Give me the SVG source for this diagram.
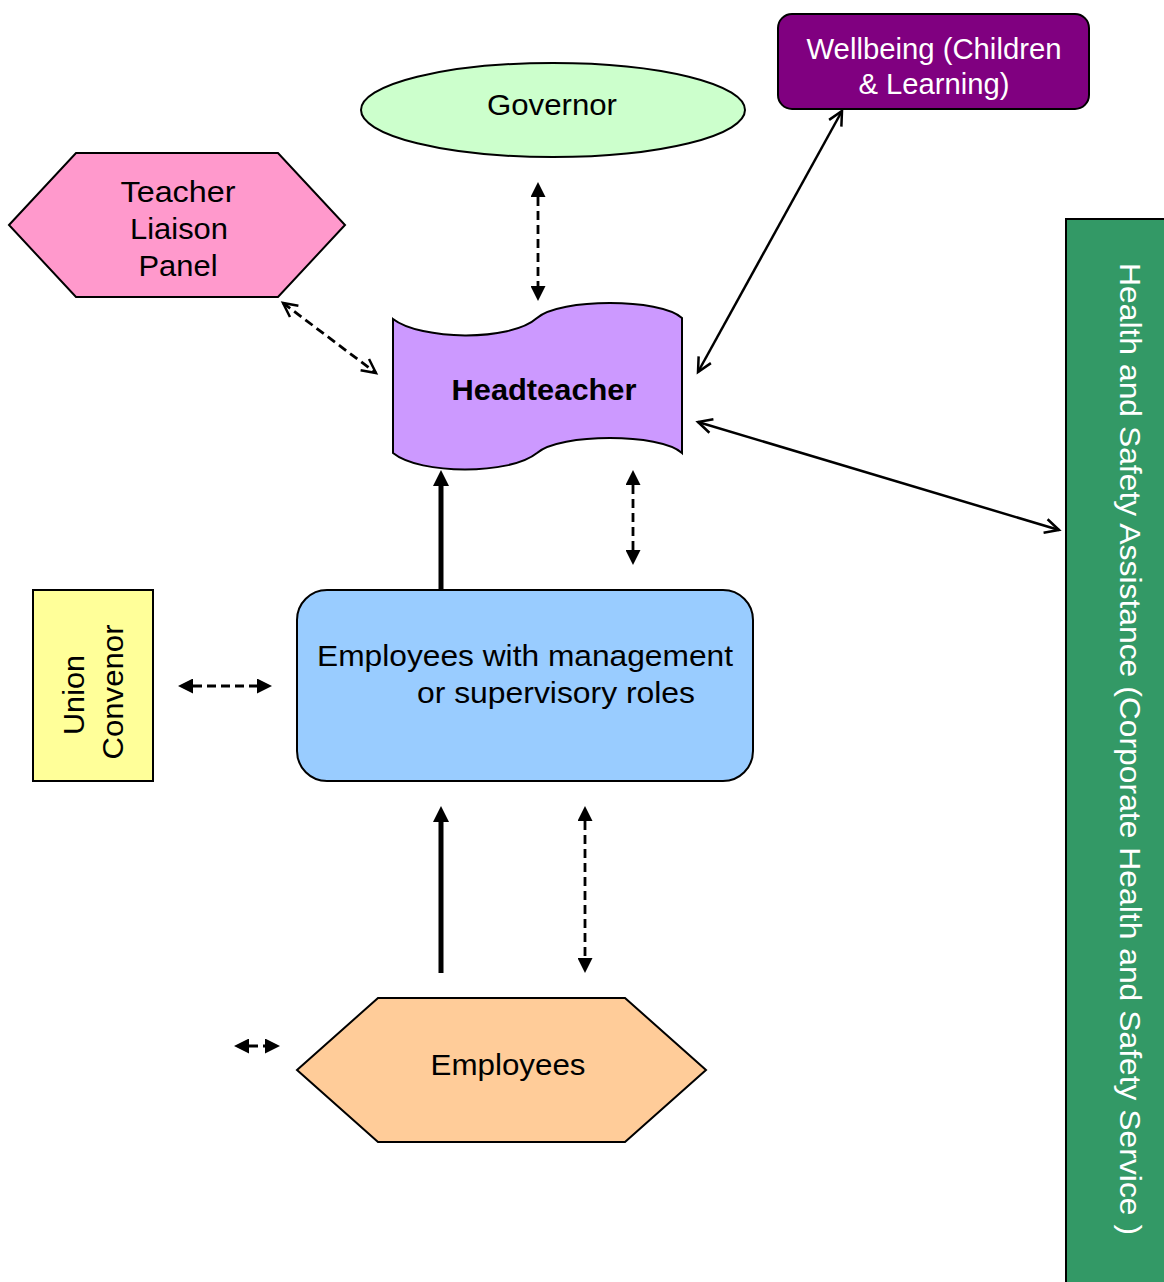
<svg xmlns="http://www.w3.org/2000/svg" width="1164" height="1282" viewBox="0 0 1164 1282">
<style>
text{font-family:"Liberation Sans",Arial,sans-serif;font-size:30px;fill:#000}
.node{stroke:#000;stroke-width:2}
.dash{stroke:#000;stroke-width:2.8;stroke-dasharray:9,5;fill:none}
.thin{stroke:#000;stroke-width:2.5;fill:none}
.thick{stroke:#000;stroke-width:5;fill:none}
</style>
<defs>
<marker id="fa" markerUnits="userSpaceOnUse" markerWidth="15" markerHeight="15" viewBox="0 0 15 15" refX="0" refY="7.5" orient="auto-start-reverse"><path d="M0,0 L15,7.5 L0,15 z" fill="#000"/></marker>
<marker id="ta" markerUnits="userSpaceOnUse" markerWidth="16" markerHeight="16" viewBox="0 0 16 16" refX="0" refY="8" orient="auto-start-reverse"><path d="M0,0 L16,8 L0,16 z" fill="#000"/></marker>
<marker id="oa" markerUnits="userSpaceOnUse" markerWidth="20" markerHeight="20" viewBox="-2 -2 20 20" refX="15" refY="8" orient="auto-start-reverse"><path d="M1,1 L15,8 L1,15" fill="none" stroke="#000" stroke-width="2.5"/></marker>
</defs>
<g id="health-safety">
<rect class="node" x="1066" y="219" width="110" height="1075" fill="#339966"/>
<text transform="translate(1120,263) rotate(90)" style="fill:#fff" textLength="972" lengthAdjust="spacingAndGlyphs">Health and Safety Assistance (Corporate Health and Safety Service )</text>
</g>
<g id="governor">
<ellipse class="node" cx="553" cy="110" rx="192" ry="47" fill="#CCFFCC"/>
<text x="552" y="115" text-anchor="middle" textLength="130" lengthAdjust="spacingAndGlyphs">Governor</text>
</g>
<g id="wellbeing">
<rect class="node" x="778" y="14" width="311" height="95" rx="14" fill="#800080"/>
<text x="934" y="59" text-anchor="middle" style="fill:#fff" textLength="255" lengthAdjust="spacingAndGlyphs">Wellbeing (Children</text>
<text x="934" y="94" text-anchor="middle" style="fill:#fff" textLength="151" lengthAdjust="spacingAndGlyphs">&amp; Learning)</text>
</g>
<g id="teacher-liaison">
<polygon class="node" points="9,225 76,153 278,153 345,225 278,297 76,297" fill="#FF99CC"/>
<text x="178" y="202" text-anchor="middle" textLength="115" lengthAdjust="spacingAndGlyphs">Teacher</text>
<text x="179" y="239" text-anchor="middle" textLength="98" lengthAdjust="spacingAndGlyphs">Liaison</text>
<text x="178" y="276" text-anchor="middle" textLength="79" lengthAdjust="spacingAndGlyphs">Panel</text>
</g>
<g id="headteacher">
<path class="node" d="M393,319 C420,340 510,342 537,318 C560,298 660,298 682,318 L682,453 C660,433 560,433 537,453 C510,475 420,475 393,453 Z" fill="#CC99FF"/>
<text x="544" y="400" text-anchor="middle" font-weight="bold" textLength="185" lengthAdjust="spacingAndGlyphs">Headteacher</text>
</g>
<g id="managers">
<rect class="node" x="297" y="590" width="456" height="191" rx="30" fill="#99CCFF"/>
<text x="317" y="666" textLength="416" lengthAdjust="spacingAndGlyphs">Employees with management</text>
<text x="417" y="703" textLength="278" lengthAdjust="spacingAndGlyphs">or supervisory roles</text>
</g>
<g id="union-convenor">
<rect class="node" x="33" y="590" width="120" height="191" fill="#FFFF99"/>
<text transform="translate(84,695) rotate(-90)" text-anchor="middle" textLength="80" lengthAdjust="spacingAndGlyphs">Union</text>
<text transform="translate(123,692) rotate(-90)" text-anchor="middle" textLength="135" lengthAdjust="spacingAndGlyphs">Convenor</text>
</g>
<g id="employees">
<polygon class="node" points="297,1070 378,998 625,998 706,1070 625,1142 378,1142" fill="#FFCC99"/>
<text x="508" y="1075" text-anchor="middle" textLength="155" lengthAdjust="spacingAndGlyphs">Employees</text>
</g>
<g id="connectors">
<line class="dash" x1="538" y1="197" x2="538" y2="286" marker-start="url(#fa)" marker-end="url(#fa)"/>
<line class="dash" x1="283" y1="303" x2="376" y2="373" marker-start="url(#oa)" marker-end="url(#oa)"/>
<line class="thin" x1="842" y1="111" x2="698" y2="372" marker-start="url(#oa)" marker-end="url(#oa)"/>
<line class="thin" x1="698" y1="422" x2="1059" y2="530" marker-start="url(#oa)" marker-end="url(#oa)"/>
<line class="thick" x1="441" y1="590" x2="441" y2="486" marker-end="url(#ta)"/>
<line class="dash" x1="633" y1="485" x2="633" y2="550" marker-start="url(#fa)" marker-end="url(#fa)"/>
<line class="dash" x1="193" y1="686" x2="257" y2="686" marker-start="url(#fa)" marker-end="url(#fa)"/>
<line class="thick" x1="441" y1="973" x2="441" y2="822" marker-end="url(#ta)"/>
<line class="dash" x1="585" y1="821" x2="585" y2="958" marker-start="url(#fa)" marker-end="url(#fa)"/>
<line class="dash" x1="249" y1="1046" x2="265" y2="1046" stroke-dasharray="6,4" marker-start="url(#fa)" marker-end="url(#fa)"/>
</g>
</svg>
